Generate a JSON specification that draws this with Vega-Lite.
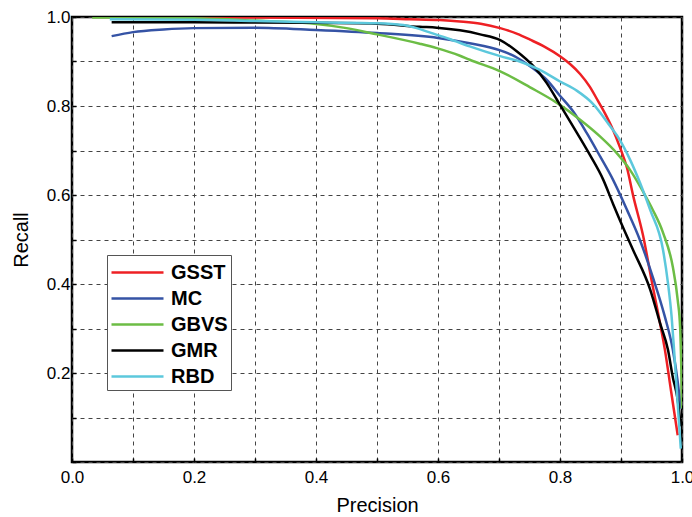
{
  "$schema": "https://vega.github.io/schema/vega-lite/v6.json",
  "width": 610,
  "height": 445,
  "autosize": "none",
  "padding": {"left": 72, "top": 17, "right": 10, "bottom": 55},
  "background": "white",
  "config": {
    "view": {"stroke": "black", "strokeWidth": 2.5},
    "font": "Liberation Sans"
  },
  "data": {
    "values": [
      {"m":"GSST","p":0.07,"r":1.0},{"m":"GSST","p":0.3,"r":0.999},{"m":"GSST","p":0.5,"r":0.997},{"m":"GSST","p":0.554,"r":0.995},{"m":"GSST","p":0.603,"r":0.993},{"m":"GSST","p":0.636,"r":0.99},{"m":"GSST","p":0.67,"r":0.985},{"m":"GSST","p":0.702,"r":0.975},{"m":"GSST","p":0.73,"r":0.962},{"m":"GSST","p":0.751,"r":0.949},{"m":"GSST","p":0.775,"r":0.933},{"m":"GSST","p":0.8,"r":0.912},{"m":"GSST","p":0.816,"r":0.895},{"m":"GSST","p":0.833,"r":0.872},{"m":"GSST","p":0.849,"r":0.843},{"m":"GSST","p":0.862,"r":0.812},{"m":"GSST","p":0.875,"r":0.78},{"m":"GSST","p":0.887,"r":0.746},{"m":"GSST","p":0.898,"r":0.708},{"m":"GSST","p":0.91,"r":0.66},{"m":"GSST","p":0.92,"r":0.598},{"m":"GSST","p":0.936,"r":0.51},{"m":"GSST","p":0.951,"r":0.402},{"m":"GSST","p":0.964,"r":0.312},{"m":"GSST","p":0.972,"r":0.252},{"m":"GSST","p":0.982,"r":0.16},{"m":"GSST","p":0.993,"r":0.06},
      {"m":"MC","p":0.065,"r":0.957},{"m":"MC","p":0.1,"r":0.966},{"m":"MC","p":0.15,"r":0.972},{"m":"MC","p":0.2,"r":0.975},{"m":"MC","p":0.3,"r":0.976},{"m":"MC","p":0.4,"r":0.971},{"m":"MC","p":0.5,"r":0.964},{"m":"MC","p":0.6,"r":0.953},{"m":"MC","p":0.652,"r":0.941},{"m":"MC","p":0.702,"r":0.925},{"m":"MC","p":0.725,"r":0.912},{"m":"MC","p":0.745,"r":0.895},{"m":"MC","p":0.762,"r":0.878},{"m":"MC","p":0.778,"r":0.859},{"m":"MC","p":0.8,"r":0.823},{"m":"MC","p":0.822,"r":0.787},{"m":"MC","p":0.844,"r":0.739},{"m":"MC","p":0.866,"r":0.686},{"m":"MC","p":0.887,"r":0.634},{"m":"MC","p":0.91,"r":0.566},{"m":"MC","p":0.931,"r":0.499},{"m":"MC","p":0.952,"r":0.416},{"m":"MC","p":0.972,"r":0.326},{"m":"MC","p":0.985,"r":0.252},{"m":"MC","p":0.993,"r":0.18},{"m":"MC","p":0.998,"r":0.12},
      {"m":"GBVS","p":0.033,"r":0.999},{"m":"GBVS","p":0.2,"r":0.997},{"m":"GBVS","p":0.3,"r":0.992},{"m":"GBVS","p":0.39,"r":0.986},{"m":"GBVS","p":0.45,"r":0.975},{"m":"GBVS","p":0.5,"r":0.961},{"m":"GBVS","p":0.57,"r":0.94},{"m":"GBVS","p":0.598,"r":0.93},{"m":"GBVS","p":0.636,"r":0.913},{"m":"GBVS","p":0.652,"r":0.904},{"m":"GBVS","p":0.702,"r":0.878},{"m":"GBVS","p":0.751,"r":0.842},{"m":"GBVS","p":0.795,"r":0.807},{"m":"GBVS","p":0.833,"r":0.769},{"m":"GBVS","p":0.866,"r":0.731},{"m":"GBVS","p":0.893,"r":0.694},{"m":"GBVS","p":0.915,"r":0.656},{"m":"GBVS","p":0.936,"r":0.608},{"m":"GBVS","p":0.952,"r":0.567},{"m":"GBVS","p":0.969,"r":0.515},{"m":"GBVS","p":0.985,"r":0.438},{"m":"GBVS","p":0.993,"r":0.364},{"m":"GBVS","p":0.997,"r":0.3},{"m":"GBVS","p":0.999,"r":0.2},{"m":"GBVS","p":1.0,"r":0.12},
      {"m":"GMR","p":0.065,"r":0.988},{"m":"GMR","p":0.2,"r":0.988},{"m":"GMR","p":0.4,"r":0.987},{"m":"GMR","p":0.5,"r":0.985},{"m":"GMR","p":0.57,"r":0.978},{"m":"GMR","p":0.598,"r":0.976},{"m":"GMR","p":0.636,"r":0.97},{"m":"GMR","p":0.669,"r":0.961},{"m":"GMR","p":0.702,"r":0.948},{"m":"GMR","p":0.729,"r":0.923},{"m":"GMR","p":0.756,"r":0.89},{"m":"GMR","p":0.778,"r":0.852},{"m":"GMR","p":0.795,"r":0.814},{"m":"GMR","p":0.811,"r":0.778},{"m":"GMR","p":0.828,"r":0.739},{"m":"GMR","p":0.849,"r":0.69},{"m":"GMR","p":0.871,"r":0.634},{"m":"GMR","p":0.887,"r":0.58},{"m":"GMR","p":0.905,"r":0.522},{"m":"GMR","p":0.92,"r":0.476},{"m":"GMR","p":0.948,"r":0.387},{"m":"GMR","p":0.964,"r":0.312},{"m":"GMR","p":0.977,"r":0.252},{"m":"GMR","p":0.985,"r":0.19},{"m":"GMR","p":0.993,"r":0.139},{"m":"GMR","p":0.998,"r":0.08},
      {"m":"RBD","p":0.062,"r":0.995},{"m":"RBD","p":0.2,"r":0.994},{"m":"RBD","p":0.3,"r":0.991},{"m":"RBD","p":0.4,"r":0.988},{"m":"RBD","p":0.5,"r":0.986},{"m":"RBD","p":0.543,"r":0.982},{"m":"RBD","p":0.565,"r":0.975},{"m":"RBD","p":0.585,"r":0.966},{"m":"RBD","p":0.62,"r":0.95},{"m":"RBD","p":0.652,"r":0.934},{"m":"RBD","p":0.702,"r":0.912},{"m":"RBD","p":0.734,"r":0.9},{"m":"RBD","p":0.767,"r":0.881},{"m":"RBD","p":0.8,"r":0.855},{"m":"RBD","p":0.828,"r":0.834},{"m":"RBD","p":0.854,"r":0.805},{"m":"RBD","p":0.882,"r":0.755},{"m":"RBD","p":0.898,"r":0.724},{"m":"RBD","p":0.915,"r":0.679},{"m":"RBD","p":0.931,"r":0.628},{"m":"RBD","p":0.948,"r":0.566},{"m":"RBD","p":0.969,"r":0.476},{"m":"RBD","p":0.977,"r":0.402},{"m":"RBD","p":0.983,"r":0.326},{"m":"RBD","p":0.987,"r":0.252},{"m":"RBD","p":0.992,"r":0.15},{"m":"RBD","p":0.998,"r":0.03}
    ]
  },
  "mark": {"type": "line", "strokeWidth": 2.5, "clip": true, "interpolate": "monotone"},
  "encoding": {
    "x": {
      "field": "p", "type": "quantitative",
      "scale": {"domain": [0, 1], "nice": false, "zero": false},
      "axis": {
        "title": "Precision", "titleFontSize": 20, "titleFontWeight": "normal", "titleColor": "black", "titlePadding": 10,
        "values": [0,0.1,0.2,0.3,0.4,0.5,0.6,0.7,0.8,0.9,1],
        "labelExpr": "round(datum.value*10) % 2 == 0 ? format(datum.value, '.1f') : ''",
        "labelOverlap": false, "labelFlush": false,
        "labelFontSize": 17, "labelColor": "black", "labelPadding": 11,
        "tickSize": -4, "tickColor": "black", "tickWidth": 1.5,
        "domain": false,
        "grid": true, "gridColor": "#444", "gridDash": [4, 4], "gridWidth": 1
      }
    },
    "y": {
      "field": "r", "type": "quantitative",
      "scale": {"domain": [0, 1], "nice": false, "zero": false},
      "axis": {
        "title": "Recall", "titleFontSize": 20, "titleFontWeight": "normal", "titleColor": "black", "titlePadding": 15,
        "values": [0,0.1,0.2,0.3,0.4,0.5,0.6,0.7,0.8,0.9,1],
        "labelExpr": "(round(datum.value*10) % 2 == 0 && datum.value > 0) ? format(datum.value, '.1f') : ''",
        "labelOverlap": false, "labelFlush": false,
        "labelFontSize": 17, "labelColor": "black", "labelPadding": 6,
        "tickSize": -4, "tickColor": "black", "tickWidth": 1.5,
        "domain": false,
        "grid": true, "gridColor": "#444", "gridDash": [4, 4], "gridWidth": 1
      }
    },
    "color": {
      "field": "m", "type": "nominal",
      "scale": {"domain": ["GSST","MC","GBVS","GMR","RBD"], "range": ["#EE2024","#3553A5","#6CBD45","#000000","#5CC8DC"]},
      "legend": {
        "title": null, "orient": "none", "legendX": 35, "legendY": 238,
        "symbolType": "M-1,0H3", "symbolSize": 676, "symbolStrokeWidth": 2.5,
        "labelFontSize": 20, "labelFontWeight": "bold", "labelColor": "black",
        "rowPadding": 1, "padding": 3, "labelOffset": 32,
        "strokeColor": "#555", "fillColor": "white"
      }
    }
  }
}
